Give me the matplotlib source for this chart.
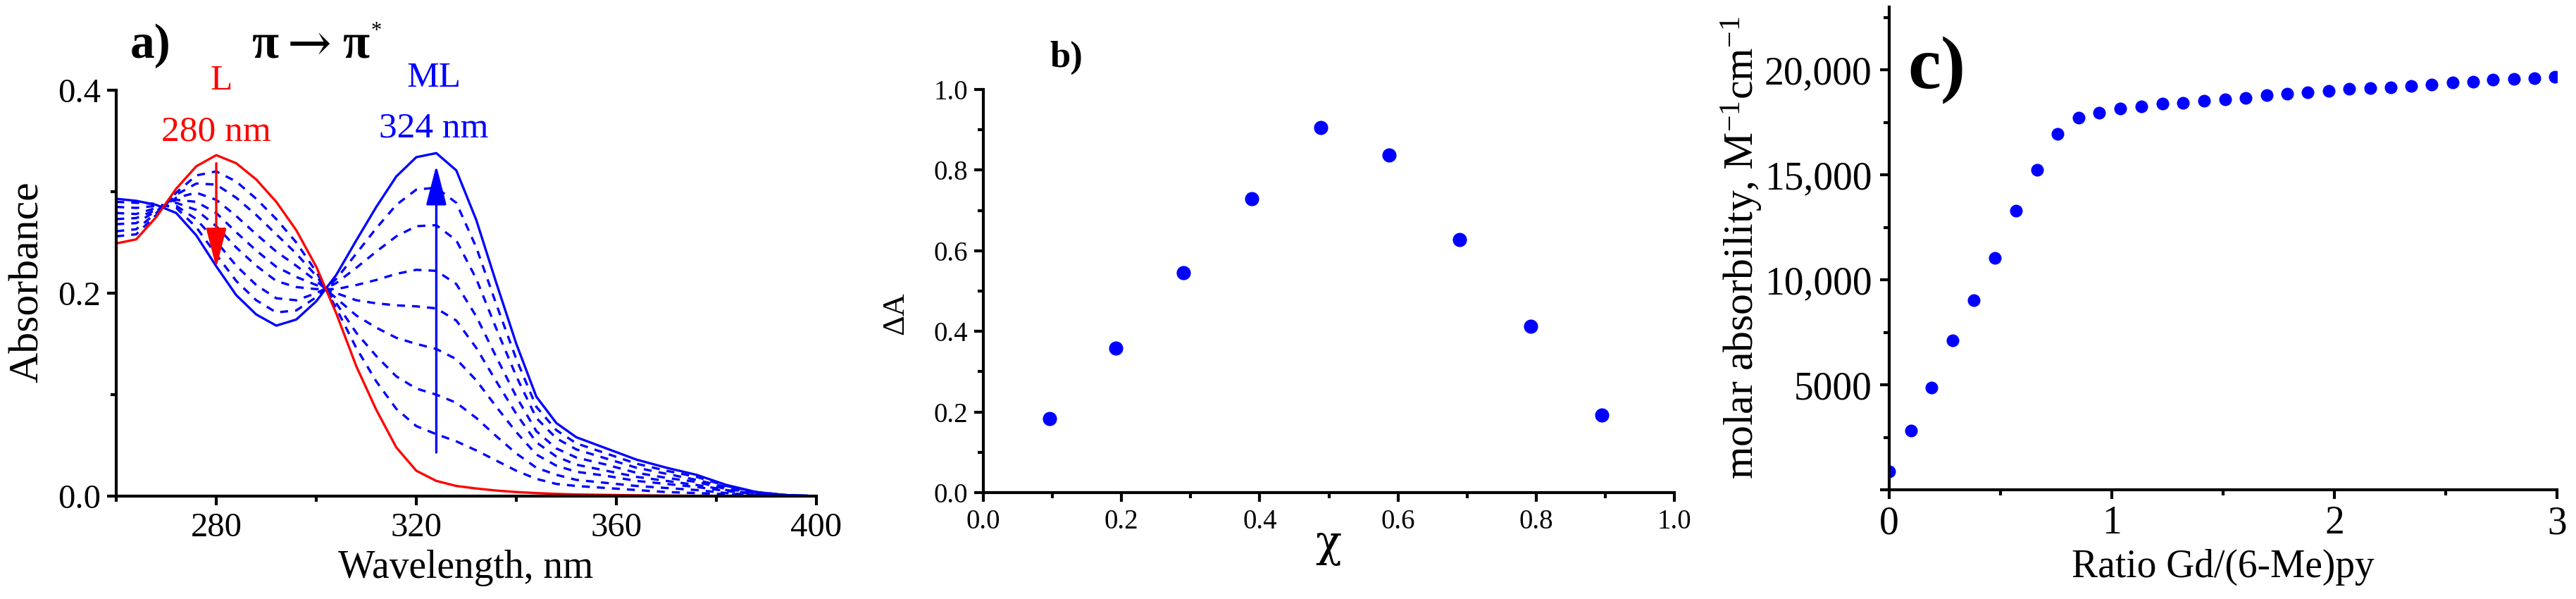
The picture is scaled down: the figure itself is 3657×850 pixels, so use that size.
import matplotlib
matplotlib.use("Agg")
import matplotlib.pyplot as plt
from matplotlib.ticker import MultipleLocator, FixedLocator, FixedFormatter

# a) titration spectra
wavelength = [260, 264, 268, 272, 276, 280, 284, 288, 292, 296, 300, 304, 308, 312, 316, 320,
              324, 328, 332, 336, 340, 344, 348, 352, 358, 364, 370, 376, 382, 388, 394, 400]
abs_L = [0.249, 0.253, 0.275, 0.303, 0.325, 0.336, 0.328, 0.312, 0.290, 0.262, 0.226, 0.180,
         0.128, 0.085, 0.048, 0.025, 0.015, 0.010, 0.0075, 0.0055, 0.004, 0.003, 0.0022, 0.0016,
         0.0012, 0.0008, 0.0005, 0.0003, 0.0002, 0.0001, 0.0, 0.0]
abs_ML = [0.293, 0.291, 0.287, 0.279, 0.257, 0.2265, 0.198, 0.179, 0.168, 0.174, 0.192, 0.218,
          0.252, 0.285, 0.315, 0.334, 0.338, 0.321, 0.272, 0.210, 0.150, 0.098, 0.072, 0.058,
          0.047, 0.036, 0.028, 0.021, 0.011, 0.004, 0.001, 0.0]
abs_steps = [
    [0.256, 0.258, 0.277, 0.299, 0.316, 0.320, 0.310, 0.293, 0.273, 0.250, 0.221, 0.185, 0.146,
     0.113, 0.086, 0.069, 0.061, 0.054, 0.045, 0.035, 0.025, 0.017, 0.012, 0.010, 0.008, 0.006,
     0.004, 0.003, 0.002, 0.001, 0.0, 0.0],
    [0.261, 0.263, 0.279, 0.297, 0.308, 0.307, 0.294, 0.277, 0.258, 0.239, 0.217, 0.190, 0.161,
     0.138, 0.118, 0.106, 0.100, 0.092, 0.077, 0.059, 0.042, 0.028, 0.021, 0.016, 0.013, 0.010,
     0.008, 0.006, 0.003, 0.001, 0.0, 0.0],
    [0.268, 0.269, 0.281, 0.294, 0.299, 0.292, 0.276, 0.258, 0.241, 0.227, 0.212, 0.195, 0.178,
     0.166, 0.156, 0.150, 0.145, 0.135, 0.114, 0.088, 0.063, 0.041, 0.030, 0.024, 0.020, 0.015,
     0.012, 0.009, 0.005, 0.002, 0.0, 0.0],
    [0.273, 0.274, 0.282, 0.292, 0.290, 0.279, 0.260, 0.242, 0.226, 0.216, 0.208, 0.200, 0.193,
     0.190, 0.188, 0.187, 0.185, 0.173, 0.146, 0.113, 0.081, 0.053, 0.039, 0.031, 0.025, 0.019,
     0.015, 0.011, 0.006, 0.002, 0.001, 0.0],
    [0.279, 0.278, 0.284, 0.289, 0.282, 0.266, 0.245, 0.227, 0.212, 0.206, 0.204, 0.204, 0.208,
     0.213, 0.219, 0.223, 0.222, 0.209, 0.177, 0.137, 0.098, 0.064, 0.047, 0.038, 0.031, 0.023,
     0.018, 0.014, 0.007, 0.003, 0.001, 0.0],
    [0.285, 0.284, 0.286, 0.286, 0.273, 0.251, 0.227, 0.208, 0.195, 0.193, 0.200, 0.210, 0.225,
     0.241, 0.256, 0.266, 0.267, 0.252, 0.214, 0.165, 0.118, 0.077, 0.057, 0.046, 0.037, 0.028,
     0.022, 0.016, 0.009, 0.003, 0.001, 0.0],
    [0.290, 0.289, 0.288, 0.284, 0.265, 0.238, 0.212, 0.193, 0.181, 0.183, 0.196, 0.214, 0.239,
     0.264, 0.287, 0.302, 0.304, 0.289, 0.245, 0.189, 0.135, 0.088, 0.065, 0.052, 0.042, 0.032,
     0.025, 0.019, 0.010, 0.004, 0.001, 0.0],
]

# b) Job plot
chi = [0.096, 0.192, 0.290, 0.388, 0.488, 0.587, 0.689, 0.792, 0.895]
delta_A = [0.184, 0.358, 0.545, 0.729, 0.905, 0.838, 0.627, 0.413, 0.193]

# c) molar absorbility vs ratio
ratio = [0.0, 0.097, 0.190, 0.285, 0.380, 0.475, 0.570, 0.665, 0.757, 0.852, 0.944, 1.039,
         1.134, 1.229, 1.321, 1.414, 1.509, 1.601, 1.696, 1.788, 1.881, 1.976, 2.068, 2.161,
         2.253, 2.346, 2.436, 2.531, 2.623, 2.713, 2.808, 2.898, 2.990]
molar_abs = [870, 2810, 4870, 7120, 9040, 11040, 13310, 15250, 16940, 17720, 17970, 18150,
             18280, 18400, 18440, 18530, 18600, 18680, 18790, 18880, 18930, 19000, 19090, 19130,
             19180, 19250, 19320, 19400, 19450, 19530, 19560, 19620, 19670]
c_yticks = [0, 5000, 10000, 15000, 20000]
c_yticklabels = ['', '5000', '10,000', '15,000', '20,000']

plt.rcParams['font.family'] = ['Liberation Serif', 'DejaVu Serif']
plt.rcParams['mathtext.fontset'] = 'custom'
plt.rcParams['mathtext.rm'] = 'Liberation Serif'
plt.rcParams['mathtext.it'] = 'Liberation Serif:italic'
plt.rcParams['mathtext.bf'] = 'Liberation Serif:bold'

W, H = 3657, 850
fig = plt.figure(figsize=(W / 100, H / 100), dpi=100)

# axes boxes in pixels: left, top, right, bottom
box_a = (165, 128, 1159, 704)
box_b = (1396, 127, 2377, 699)
box_c = (2682, 10, 3630, 695)


def add_axes(b):
    l, t, r, btm = b
    return fig.add_axes([l / W, 1 - btm / H, (r - l) / W, (btm - t) / H])


def to_axes(b, x, y):
    l, t, r, btm = b
    return (x - l) / (r - l), (btm - y) / (btm - t)


def fig_xy(x, y):
    return x / W, 1 - y / H


def style(ax, size, xpad, ypad):
    ax.spines['top'].set_visible(False)
    ax.spines['right'].set_visible(False)
    ax.spines['left'].set_linewidth(3)
    ax.spines['bottom'].set_linewidth(3)
    ax.tick_params(which='major', length=9.5, width=3, labelsize=size)
    ax.tick_params(which='minor', length=5.5, width=3)
    ax.tick_params(axis='x', which='both', pad=xpad)
    ax.tick_params(axis='y', which='both', pad=ypad)


# ---- a) ----
ax1 = add_axes(box_a)
for ys in abs_steps:
    ax1.plot(wavelength, ys, color='blue', lw=2.4, ls=(0, (3.4, 3)))
ax1.plot(wavelength, abs_ML, color='blue', lw=2.4)
ax1.plot(wavelength, abs_L, color='red', lw=2.4)
ax1.set_xlim(260, 400)
ax1.set_ylim(0, 0.4)
ax1.xaxis.set_major_locator(FixedLocator([280, 320, 360, 400]))
ax1.xaxis.set_minor_locator(FixedLocator([260, 300, 340, 380]))
ax1.yaxis.set_major_locator(MultipleLocator(0.2))
ax1.yaxis.set_minor_locator(MultipleLocator(0.1))
ax1.yaxis.set_major_formatter('{x:.1f}')
style(ax1, 35, 7, 6.5)

arrow = '-|>,head_length=3.5,head_width=0.9'
ax1.annotate('', xy=(280, 0.225), xytext=(280, 0.328),
             arrowprops=dict(arrowstyle=arrow, mutation_scale=10, color='red', lw=2.4,
                             shrinkA=0, shrinkB=0))
ax1.annotate('', xy=(324, 0.326), xytext=(324, 0.043),
             arrowprops=dict(arrowstyle=arrow, mutation_scale=10, color='blue', lw=2.4,
                             shrinkA=0, shrinkB=0))

ax1.text(281, 0.4007, 'L', color='red', fontsize=37, ha='center', va='baseline', clip_on=False)
ax1.text(280, 0.350, '280 nm', color='red', fontsize=37, ha='center', va='baseline')
ax1.text(323.5, 0.4035, 'ML', color='blue', fontsize=37, ha='center', va='baseline', clip_on=False)
ax1.text(323.5, 0.3535, '324 nm', color='blue', fontsize=37, ha='center', va='baseline')

ax1.set_xlabel('Wavelength, nm', fontsize=40, va='baseline')
ax1.xaxis.set_label_coords(*to_axes(box_a, 661, 820))
ax1.set_ylabel('Absorbance', fontsize=43, va='center')
ax1.yaxis.set_label_coords(*to_axes(box_a, 40, 400))

fig.text(*fig_xy(185, 82), 'a)', fontsize=50, fontweight='bold', va='baseline')
# pi -> pi* written in pieces so the arrow can be long
fig.text(*fig_xy(357, 82), 'π', fontsize=50, fontweight='bold', va='baseline')
fig.text(*fig_xy(439, 65), '→', fontsize=54, family='DejaVu Serif', ha='center', va='center')
fig.text(*fig_xy(486, 82), 'π', fontsize=50, fontweight='bold', va='baseline')
fig.text(*fig_xy(534, 52), '*', fontsize=22, ha='center', va='baseline')

# ---- b) ----
ax2 = add_axes(box_b)
ax2.plot(chi, delta_A, 'o', color='blue', ms=14.5, mew=0)
ax2.set_xlim(0, 1)
ax2.set_ylim(0, 1)
for axis in (ax2.xaxis, ax2.yaxis):
    axis.set_major_locator(MultipleLocator(0.2))
    axis.set_minor_locator(MultipleLocator(0.1))
    axis.set_major_formatter('{x:.1f}')
style(ax2, 28, 7, 6.5)
ax2.set_xlabel('χ', fontsize=44, family='DejaVu Serif', va='baseline')
ax2.xaxis.set_label_coords(*to_axes(box_b, 1886, 789))
ax2.set_ylabel('ΔA', fontsize=32, va='center')
ax2.yaxis.set_label_coords(*to_axes(box_b, 1271, 445))
fig.text(*fig_xy(1490, 95), 'b)', fontsize=38, fontweight='bold', va='baseline')

# ---- c) ----
ax3 = add_axes(box_c)
ax3.plot(ratio, molar_abs, 'o', color='blue', ms=13, mew=0)
ax3.set_xlim(0, 3)
ax3.set_ylim(0, 23000)
ax3.xaxis.set_major_locator(MultipleLocator(1))
ax3.xaxis.set_minor_locator(MultipleLocator(0.5))
ax3.yaxis.set_major_locator(FixedLocator(c_yticks))
ax3.yaxis.set_major_formatter(FixedFormatter(c_yticklabels))
ax3.yaxis.set_minor_locator(FixedLocator([2500, 7500, 12500, 17500, 22500]))
style(ax3, 40, 6.5, 8)
ax3.set_xlabel('Ratio Gd/(6-Me)py', fontsize=40, va='baseline')
ax3.xaxis.set_label_coords(*to_axes(box_c, 3156, 819))
ax3.set_ylabel('molar absorbility, M$^{-1}$cm$^{-1}$', fontsize=43, va='center')
ax3.yaxis.set_label_coords(*to_axes(box_c, 2473, 352))
fig.text(*fig_xy(2708, 125), 'c)', fontsize=76, fontweight='bold', va='baseline')

fig.savefig('out.png', dpi=100)
